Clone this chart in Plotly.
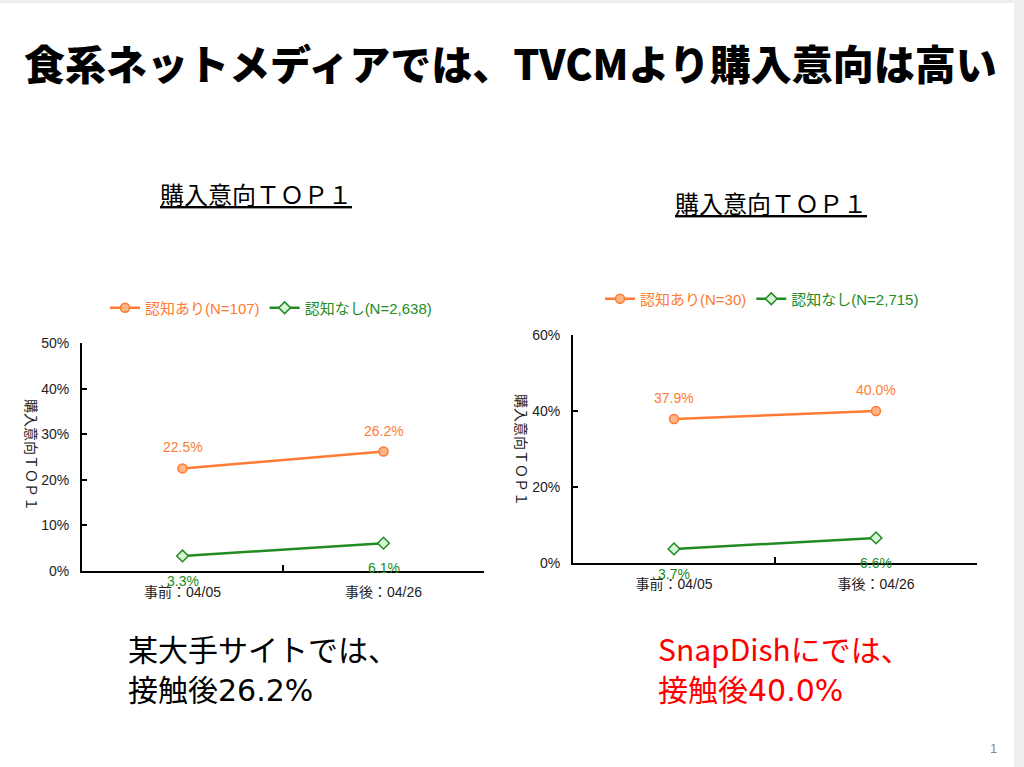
import plotly.graph_objects as go

# ---- data ----
categories = ["事前：04/05", "事後：04/26"]
left_aware = [22.5, 26.2]
left_unaware = [3.3, 6.1]
right_aware = [37.9, 40.0]
right_unaware = [3.7, 6.6]
left_names = ["認知あり(N=107)", "認知なし(N=2,638)"]
right_names = ["認知あり(N=30)", "認知なし(N=2,715)"]
left_ticks = [0, 10, 20, 30, 40, 50]
right_ticks = [0, 20, 40, 60]

W, H = 1024, 767
ORANGE = "#FF7A33"
ORANGE_FILL = "#FFB585"
GREEN = "#228B22"
GREEN_FILL = "#D6F5D6"
FONT = "Liberation Sans, Noto Sans CJK JP, sans-serif"
JFONT = "Noto Sans CJK JP, sans-serif"

def fx(px):
    return px / W

def fy(py):
    return 1 - py / H

fig = go.Figure()

def pct(v):
    return f"{v:.1f}%"

ann = []

def add_pair(xa, ya, aware, unaware, names, legend):
    fig.add_trace(go.Scatter(
        x=categories, y=aware, xaxis=xa, yaxis=ya, mode="lines+markers",
        name=f"<span style='color:{ORANGE}'>{names[0]}</span>",
        line=dict(color=ORANGE, width=2.5),
        marker=dict(symbol="circle", size=9, color=ORANGE_FILL, line=dict(color=ORANGE, width=1.5)),
        legend=legend, cliponaxis=False, hoverinfo="skip",
    ))
    fig.add_trace(go.Scatter(
        x=categories, y=unaware, xaxis=xa, yaxis=ya, mode="lines+markers",
        name=f"<span style='color:{GREEN}'>{names[1]}</span>",
        line=dict(color=GREEN, width=2.5),
        marker=dict(symbol="diamond", size=9, color=GREEN_FILL, line=dict(color=GREEN, width=1.5)),
        legend=legend, cliponaxis=False, hoverinfo="skip",
    ))
    for c, v in zip(categories, aware):
        ann.append(dict(text=pct(v), x=c, y=v, xref=xa, yref=ya, yshift=21,
                        font=dict(size=14, family=FONT, color=ORANGE)))
    for c, v in zip(categories, unaware):
        ann.append(dict(text=pct(v), x=c, y=v, xref=xa, yref=ya, yshift=-25,
                        font=dict(size=14, family=FONT, color=GREEN)))

add_pair("x", "y", left_aware, left_unaware, left_names, "legend")
add_pair("x2", "y2", right_aware, right_unaware, right_names, "legend2")

xcommon = dict(
    type="category", range=[-0.5, 1.5], showline=True, linecolor="black", linewidth=2,
    ticks="inside", tickson="boundaries", ticklen=6, tickcolor="black", tickwidth=2,
    showgrid=False, zeroline=False, tickfont=dict(size=14, color="#222", family=FONT),
    ticklabelstandoff=7, automargin=False,
)
ycommon = dict(
    showline=True, linecolor="black", linewidth=2, ticks="inside", ticklen=5,
    tickcolor="black", tickwidth=2, showgrid=False, zeroline=False,
    tickfont=dict(size=14, color="#222", family=FONT),
    ticklabelstandoff=8, automargin=False,
)

fig.update_layout(
    width=W, height=H, margin=dict(l=0, r=0, t=0, b=0, autoexpand=False),
    paper_bgcolor="white", plot_bgcolor="rgba(0,0,0,0)",
    xaxis=dict(domain=[fx(82), fx(484)], anchor="y", **xcommon),
    yaxis=dict(domain=[fy(571), fy(343)], anchor="x", range=[0, 50],
               tickvals=left_ticks, ticktext=[f"{t}%" for t in left_ticks], **ycommon),
    xaxis2=dict(domain=[fx(573), fx(977)], anchor="y2", **xcommon),
    yaxis2=dict(domain=[fy(563), fy(335)], anchor="x2", range=[0, 60],
                tickvals=right_ticks, ticktext=[f"{t}%" for t in right_ticks], **ycommon),
    legend=dict(orientation="h", x=fx(105), y=fy(308), xanchor="left", yanchor="middle",
                font=dict(size=15, family=FONT), bgcolor="rgba(0,0,0,0)",
                itemwidth=30, tracegroupgap=0),
    legend2=dict(orientation="h", x=fx(600), y=fy(299), xanchor="left", yanchor="middle",
                 font=dict(size=15, family=FONT), bgcolor="rgba(0,0,0,0)",
                 itemwidth=30, tracegroupgap=0),
    showlegend=True,
)

# background strips
fig.add_shape(type="rect", xref="paper", yref="paper", x0=0, x1=1, y0=fy(3), y1=1,
              fillcolor="#F0EEEC", line_width=0, layer="below")
fig.add_shape(type="rect", xref="paper", yref="paper", x0=fx(1014), x1=1, y0=0, y1=1,
              fillcolor="#F0EEEC", line_width=0, layer="below")

DV = "<span style='font-family:DejaVu Sans'>{}</span>"
ann.append(dict(text="食系ネットメディアでは、TVCMより購入意向は高い", x=fx(510), y=fy(62),
                font=dict(size=41, family=JFONT, color="black", weight=900)))
ann.append(dict(text="<u>購入意向ＴＯＰ１</u>", x=fx(256), y=fy(193),
                font=dict(size=24, family=JFONT, color="black")))
ann.append(dict(text="<u>購入意向ＴＯＰ１</u>", x=fx(771), y=fy(203),
                font=dict(size=24, family=JFONT, color="black")))
ann.append(dict(text="購入意向ＴＯＰ１", x=fx(32), y=fy(455), textangle=90,
                font=dict(size=14, family=JFONT, color="#222")))
ann.append(dict(text="購入意向ＴＯＰ１", x=fx(522), y=fy(450), textangle=90,
                font=dict(size=14, family=JFONT, color="#222")))
ann.append(dict(text="某大手サイトでは、", x=fx(126), y=fy(648), xanchor="left",
                font=dict(size=30, family=JFONT, color="black")))
ann.append(dict(text="接触後" + DV.format("26.2%"), x=fx(126), y=fy(688), xanchor="left",
                font=dict(size=30, family=JFONT, color="black")))
ann.append(dict(text="SnapDishにでは、", x=fx(656), y=fy(648), xanchor="left",
                font=dict(size=30, family=JFONT, color="#FF0000")))
ann.append(dict(text="接触後" + DV.format("40.0%"), x=fx(656), y=fy(688), xanchor="left",
                font=dict(size=30, family=JFONT, color="#FF0000")))
ann.append(dict(text="1", x=fx(993), y=fy(748), font=dict(size=13, family=FONT, color="#888")))
for a in ann:
    a.setdefault("xref", "paper")
    a.setdefault("yref", "paper")
    a.setdefault("showarrow", False)
    a.setdefault("yanchor", "middle")
    a.setdefault("xanchor", "center")
fig.update_layout(annotations=ann)

fig.write_html(
    "out.html",
    config={"displayModeBar": False},
    post_script="document.body.style.margin='0';document.body.style.overflow='hidden';",
)
